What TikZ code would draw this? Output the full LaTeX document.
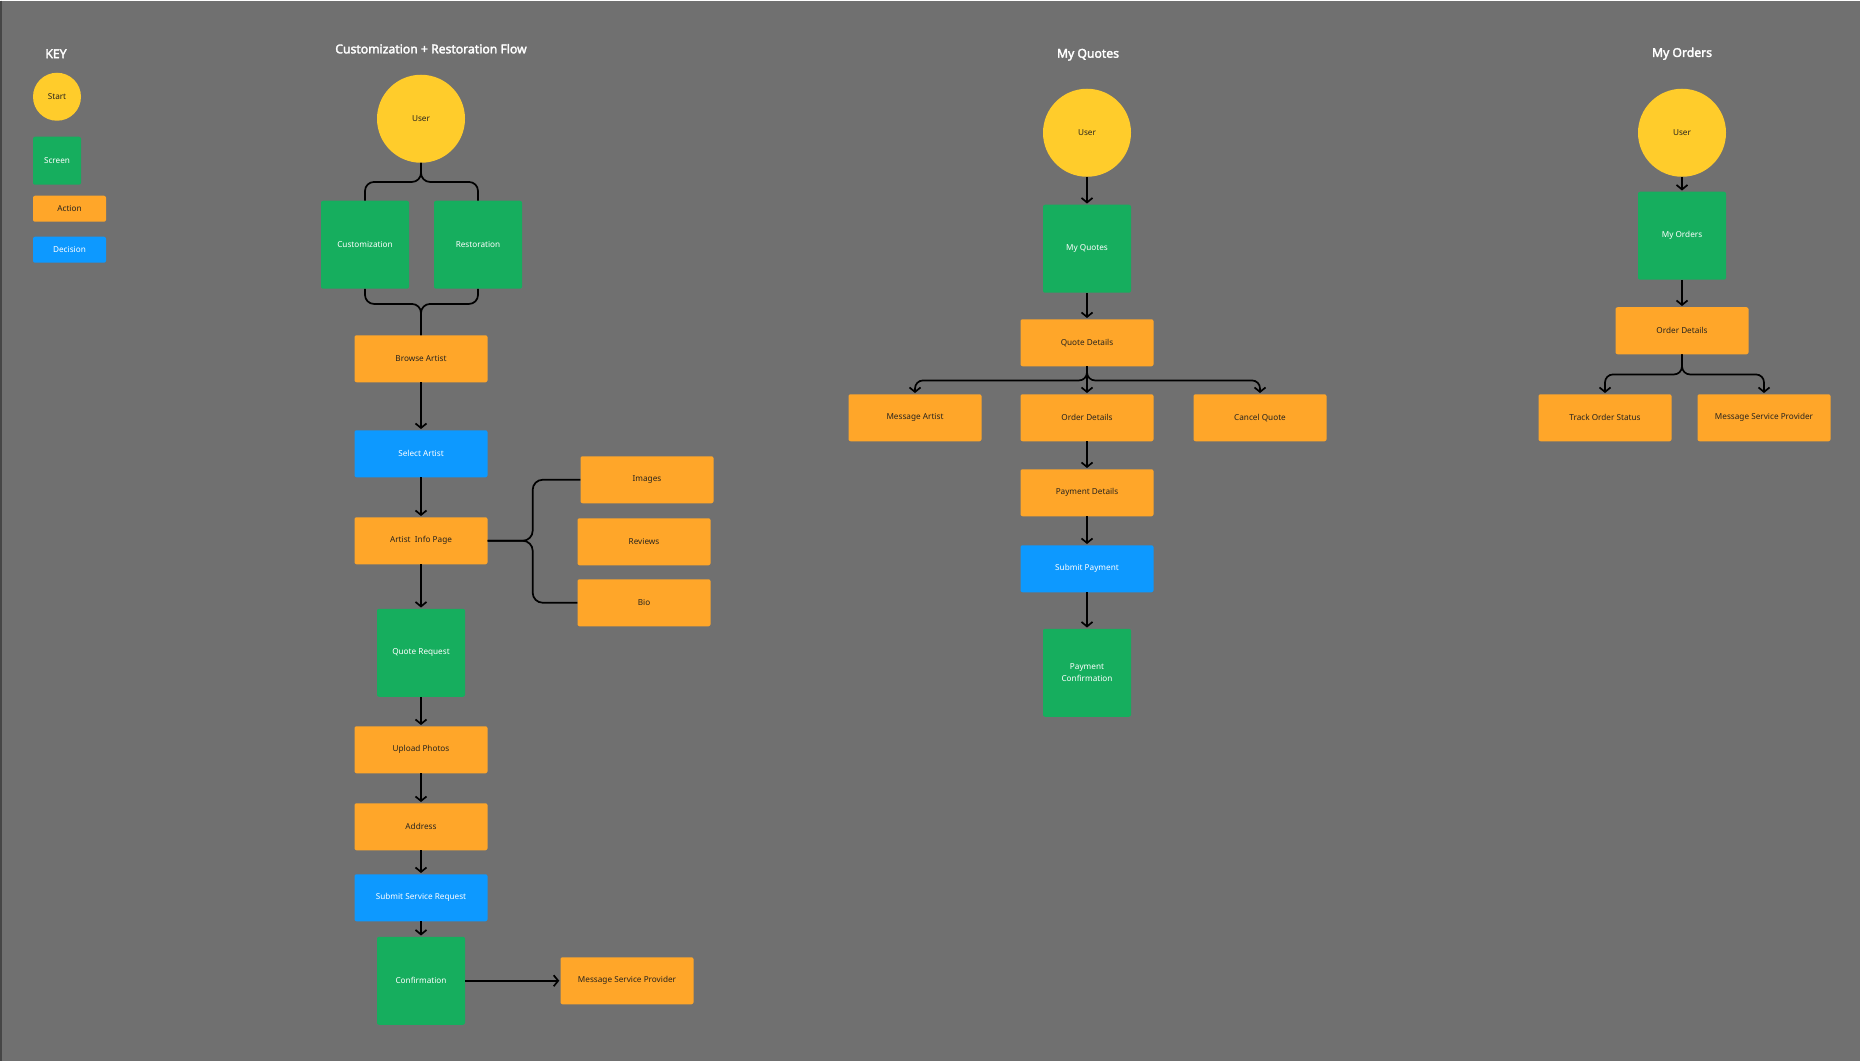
\documentclass[tikz,border=0pt]{standalone}
\usepackage{fontspec}
\setmainfont{Noto Sans}[AutoFakeBold=2.5]
\usepackage{tikz}
\usetikzlibrary{arrows.meta}

\definecolor{canvas}{RGB}{112,112,112}
\definecolor{canvasedge}{RGB}{70,70,70}
\definecolor{startyellow}{RGB}{255,204,43}
\definecolor{screengreen}{RGB}{22,174,94}
\definecolor{actionorange}{RGB}{255,166,41}
\definecolor{decisionblue}{RGB}{13,153,255}
\definecolor{labeldark}{RGB}{40,36,30}

\tikzset{
    start/.style={circle, fill=startyellow, minimum size=88pt, inner sep=0pt, text=labeldark},
    screen/.style={rectangle, rounded corners=2pt, fill=screengreen, minimum width=88pt, minimum height=88pt, inner sep=0pt, text=white, align=center},
    action/.style={rectangle, rounded corners=2pt, fill=actionorange, minimum width=133pt, minimum height=47pt, inner sep=0pt, text=labeldark},
    decision/.style={rectangle, rounded corners=2pt, fill=decisionblue, minimum width=133pt, minimum height=47pt, inner sep=0pt, text=white},
    flowtitle/.style={text=white, font=\bfseries\fontsize{12.2}{15}\selectfont}
}

\begin{document}
\begin{tikzpicture}[x=1pt, y=-1pt, font=\fontsize{8.2}{12}\selectfont,
        >={Straight Barb[length=4.5pt,width=11pt]}]
        \fill[canvas] (0,0) rectangle (1860,1060);
        \draw[canvasedge, line width=1.5pt] (0.75,0) -- (0.75,1060);
        \useasboundingbox (0,0) rectangle (1860,1060);

        \begin{scope}
            \node[flowtitle] (keytitle) at (56,53) {KEY};
            \node[start, minimum size=48pt] (keystart) at (57,96) {Start};
            \node[screen, minimum width=48pt, minimum height=48pt] (keyscreen) at (57,160) {Screen};
            \node[action, minimum width=73pt, minimum height=26pt] (keyaction) at (69.5,208) {Action};
            \node[decision, minimum width=73pt, minimum height=26pt] (keydecision) at (69.5,249) {Decision};
        \end{scope}

        \begin{scope}
            \node[flowtitle] (title1) at (431,48) {Customization + Restoration Flow};
            \node[start] (user1) at (421,118) {User};
            \node[screen] (cust) at (365,244) {Customization};
            \node[screen] (resto) at (478,244) {Restoration};
            \node[action] (browse) at (421,358) {Browse Artist};
            \node[decision] (select) at (421,453) {Select Artist};
            \node[action] (info) at (421,540) {Artist\ \ Info Page};
            \node[action] (images) at (647,479) {Images};
            \node[action] (reviews) at (644,541) {Reviews};
            \node[action] (bio) at (644,602) {Bio};
            \node[screen] (quotereq) at (421,652) {Quote Request};
            \node[action] (upload) at (421,749) {Upload Photos};
            \node[action] (address) at (421,826) {Address};
            \node[decision] (submitreq) at (421,897) {Submit Service Request};
            \node[screen] (confirm) at (421,980) {Confirmation};
            \node[action] (msgsp1) at (627,980) {Message Service Provider};
        \end{scope}

        \begin{scope}
            \node[flowtitle] (title2) at (1088,54) {My Quotes};
            \node[start] (user2) at (1087,132) {User};
            \node[screen] (myquotes) at (1087,248) {My Quotes};
            \node[action] (quotedet) at (1087,342) {Quote Details};
            \node[action] (msgartist) at (915,417) {Message Artist};
            \node[action] (orderdet1) at (1087,417) {Order Details};
            \node[action] (cancel) at (1260,417) {Cancel Quote};
            \node[action] (paydet) at (1087,492) {Payment Details};
            \node[decision] (submitpay) at (1087,568) {Submit Payment};
            \node[screen] (payconf) at (1087,672) {Payment\\Confirmation};
        \end{scope}

        \begin{scope}
            \node[flowtitle] (title3) at (1682,53) {My Orders};
            \node[start] (user3) at (1682,132) {User};
            \node[screen] (myorders) at (1682,235) {My Orders};
            \node[action] (orderdet2) at (1682,330) {Order Details};
            \node[action] (track) at (1605,417) {Track Order Status};
            \node[action] (msgsp2) at (1764,417) {Message Service Provider};
        \end{scope}

        \begin{scope}[line width=1.7pt, every edge/.style={draw, line width=1.7pt, shorten >=1pt}]
            \draw[rounded corners=9pt] (user1.south) -- ++(0,19) -| (cust.north);
            \draw[rounded corners=9pt] (user1.south) -- ++(0,19) -| (resto.north);
            \draw[rounded corners=9pt] (cust.south) -- ++(0,15) -| (browse.north);
            \draw[rounded corners=9pt] (resto.south) -- ++(0,15) -| (browse.north);
            \path [->] (browse) edge (select);
            \path [->] (select) edge (info);
            \draw[rounded corners=10pt] (info.east) -- ++(45,0) |- (images.west);
            \draw[rounded corners=10pt] (info.east) -- ++(45,0) |- (bio.west);
            \path [->] (info) edge (quotereq);
            \path [->] (quotereq) edge (upload);
            \path [->] (upload) edge (address);
            \path [->] (address) edge (submitreq);
            \path [->] (submitreq) edge (confirm);
            \path [->] (confirm) edge (msgsp1);

            \path [->] (user2) edge (myquotes);
            \path [->] (myquotes) edge (quotedet);
            \draw[->, shorten >=1pt, rounded corners=8pt] (quotedet.south) -- ++(0,14) -| (msgartist.north);
            \draw[->, shorten >=1pt, rounded corners=8pt] (quotedet.south) -- ++(0,14) -| (cancel.north);
            \path [->] (quotedet) edge (orderdet1);
            \path [->] (orderdet1) edge (paydet);
            \path [->] (paydet) edge (submitpay);
            \path [->] (submitpay) edge (payconf);

            \path [->] (user3) edge (myorders);
            \path [->] (myorders) edge (orderdet2);
            \draw[->, shorten >=1pt, rounded corners=8pt] (orderdet2.south) -- ++(0,20) -| (track.north);
            \draw[->, shorten >=1pt, rounded corners=8pt] (orderdet2.south) -- ++(0,20) -| (msgsp2.north);
        \end{scope}
    \end{tikzpicture}
\end{document}
